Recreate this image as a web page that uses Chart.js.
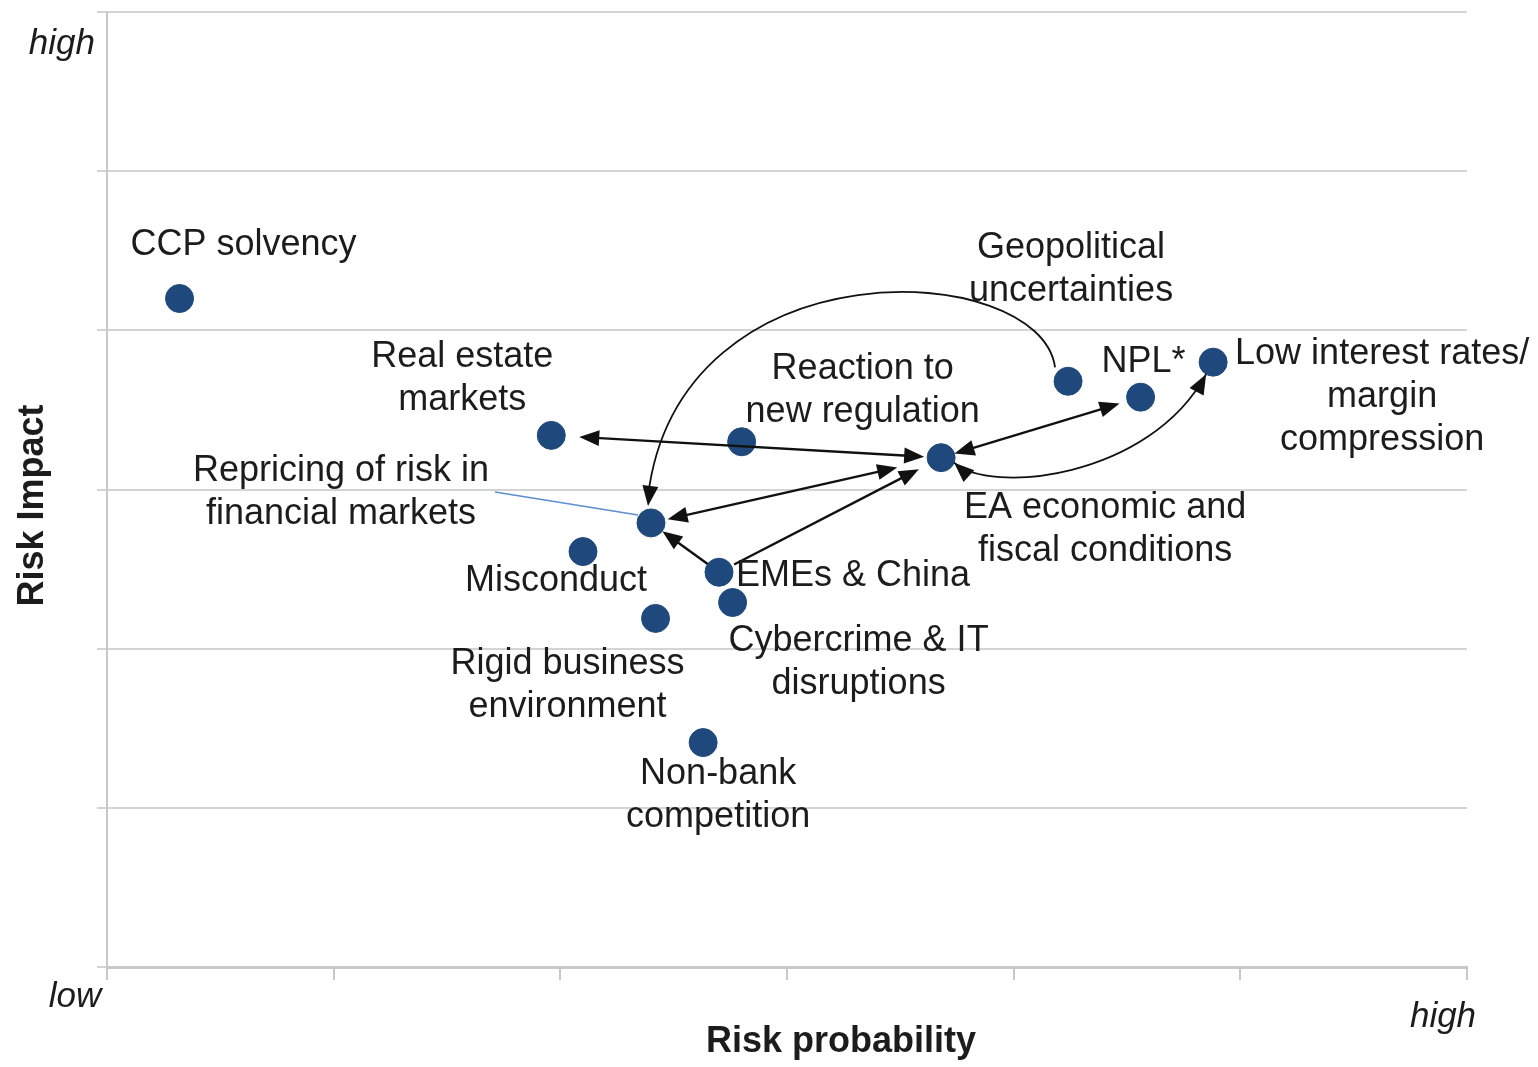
<!DOCTYPE html>
<html>
<head>
<meta charset="utf-8">
<script src="https://cdn.jsdelivr.net/npm/chart.js@4.4.1/dist/chart.umd.min.js"></script>
<style>
  html, body { margin: 0; padding: 0; background: #fff; }
  #wrap { width: 1538px; height: 1067px; position: relative; }
</style>
</head>
<body>
<div id="wrap"><canvas id="riskChart"></canvas></div>
<script>
// risk map: probability (x) vs impact (y), both on a 0..6 scale
const riskNames = [
  "CCP solvency", "Real estate markets", "Reaction to new regulation",
  "Geopolitical uncertainties", "NPL*", "Low interest rates/margin compression",
  "EA economic and fiscal conditions", "Repricing of risk in financial markets",
  "Misconduct", "EMEs & China", "Cybercrime & IT disruptions",
  "Rigid business environment", "Non-bank competition"
];
const probability = [0.32, 1.96, 2.8, 4.24, 4.56, 4.88, 3.68, 2.4, 2.1, 2.7, 2.76, 2.42, 2.63];
const impact      = [4.2, 3.34, 3.3, 3.68, 3.58, 3.8, 3.2, 2.79, 2.61, 2.48, 2.29, 2.19, 1.41];

// label text lines for each risk
const labelLines = [
  ["CCP solvency"],
  ["Real estate", "markets"],
  ["Reaction to", "new regulation"],
  ["Geopolitical", "uncertainties"],
  ["NPL*"],
  ["Low interest rates/", "margin", "compression"],
  ["EA economic and", "fiscal conditions"],
  ["Repricing of risk in", "financial markets"],
  ["Misconduct"],
  ["EMEs & China"],
  ["Cybercrime & IT", "disruptions"],
  ["Rigid business", "environment"],
  ["Non-bank", "competition"]
];

// links between risks: [from, to, arrowhead at from, arrowhead at to]
const links = [
  [6, 1, true, true],
  [6, 4, true, true],
  [6, 7, true, true],
  [9, 6, false, true],
  [9, 7, false, true]
];

const axisTicks = ["low", "high"];

// --- styling (pixel offsets for labels / arrow trimming) ---
const labelOffsets = [
  [-49, -53, "left"], [-89, -78], [121, -73], [3, -133], [3, -35], [169, -8],
  [164, 50], [-310, -52], [-27, 30], [17, 4, "left"], [126, 39], [-88, 46], [15, 32]
];
const linkTrim = [[17, 28], [14, 22], [45, 17], [17, 25], [14, 14]];
const lineH = 43;
const FONT = '"Liberation Sans", Arial, sans-serif';
const DOT = '#1f497d';

function arrowHead(ctx, tipX, tipY, dx, dy) {
  const len = Math.hypot(dx, dy) || 1;
  const ux = dx / len, uy = dy / len;
  const L = 20, W = 8;
  ctx.beginPath();
  ctx.moveTo(tipX, tipY);
  ctx.lineTo(tipX - ux * L - uy * W, tipY - uy * L + ux * W);
  ctx.lineTo(tipX - ux * L + uy * W, tipY - uy * L - ux * W);
  ctx.closePath();
  ctx.fill();
}

const riskOverlay = {
  id: 'riskOverlay',
  afterDatasetsDraw(chart) {
    const { ctx, scales: { x, y }, chartArea } = chart;
    const pt = i => [x.getPixelForValue(probability[i]), y.getPixelForValue(impact[i])];
    ctx.save();

    // leader line for the repricing label
    const rp = pt(7);
    ctx.strokeStyle = '#5b8fd0';
    ctx.lineWidth = 1.6;
    ctx.beginPath();
    ctx.moveTo(rp[0] - 156, rp[1] - 31);
    ctx.lineTo(rp[0] - 13, rp[1] - 8);
    ctx.stroke();

    ctx.strokeStyle = '#111';
    ctx.fillStyle = '#111';
    ctx.lineWidth = 2.4;

    // straight links
    links.forEach((lk, k) => {
      const a = pt(lk[0]), b = pt(lk[1]);
      const dx = b[0] - a[0], dy = b[1] - a[1];
      const len = Math.hypot(dx, dy);
      const ux = dx / len, uy = dy / len;
      const s = [a[0] + ux * linkTrim[k][0], a[1] + uy * linkTrim[k][0]];
      const e = [b[0] - ux * linkTrim[k][1], b[1] - uy * linkTrim[k][1]];
      ctx.beginPath();
      ctx.moveTo(s[0] + (lk[2] ? ux * 12 : 0), s[1] + (lk[2] ? uy * 12 : 0));
      ctx.lineTo(e[0] - (lk[3] ? ux * 12 : 0), e[1] - (lk[3] ? uy * 12 : 0));
      ctx.stroke();
      if (lk[2]) arrowHead(ctx, s[0], s[1], -ux, -uy);
      if (lk[3]) arrowHead(ctx, e[0], e[1], ux, uy);
    });

    // curved link: geopolitical -> repricing
    const g = pt(3), r = pt(7);
    let p0 = [g[0] - 13, g[1] - 14], p3 = [r[0] - 3, r[1] - 17];
    let p1 = [p0[0] - 15, p0[1] - 108], p2 = [p3[0] + 32, p3[1] - 266];
    ctx.lineWidth = 1.8;
    ctx.beginPath();
    ctx.moveTo(p0[0], p0[1]);
    ctx.bezierCurveTo(p1[0], p1[1], p2[0], p2[1], p3[0], p3[1] - 10);
    ctx.stroke();
    arrowHead(ctx, p3[0], p3[1], p3[0] - p2[0], p3[1] - p2[1]);

    // curved link: EA <-> low interest rates
    const ea = pt(6), lo = pt(5);
    p0 = [ea[0] + 13, ea[1] + 5]; p3 = [lo[0] - 7, lo[1] + 12];
    p1 = [p0[0] + 35, p0[1] + 32]; p2 = [p3[0] - 57, p3[1] + 105];
    ctx.beginPath();
    ctx.moveTo(p0[0], p0[1]);
    ctx.bezierCurveTo(p1[0], p1[1], p2[0], p2[1], p3[0], p3[1]);
    ctx.stroke();
    arrowHead(ctx, p0[0], p0[1], p0[0] - p1[0], p0[1] - p1[1]);
    arrowHead(ctx, p3[0], p3[1], p3[0] - p2[0], p3[1] - p2[1]);

    // risk labels
    ctx.fillStyle = '#1c1c1c';
    ctx.font = '36px ' + FONT;
    ctx.textBaseline = 'middle';
    labelLines.forEach((lines, i) => {
      const p = pt(i), o = labelOffsets[i];
      ctx.textAlign = o[2] || 'center';
      lines.forEach((t, j) => ctx.fillText(t, p[0] + o[0], p[1] + o[1] + j * lineH));
    });

    // axis end labels and titles
    ctx.font = 'italic 35px ' + FONT;
    ctx.textAlign = 'right';
    ctx.fillText(axisTicks[1], chartArea.left - 12, chartArea.top + 32);
    ctx.textAlign = 'center';
    ctx.fillText(axisTicks[0], chartArea.left - 32, chartArea.bottom + 30);
    ctx.fillText(axisTicks[1], chartArea.right - 24, chartArea.bottom + 50);

    ctx.font = 'bold 36px ' + FONT;
    ctx.fillText('Risk probability', (chartArea.left + chartArea.right) / 2 + 54, chartArea.bottom + 75);
    ctx.translate(33, (chartArea.top + chartArea.bottom) / 2 + 16);
    ctx.rotate(-Math.PI / 2);
    ctx.fillText('Risk Impact', 0, 0);
    ctx.restore();
  }
};

const ctx = document.getElementById('riskChart').getContext('2d');
new Chart(ctx, {
  type: 'scatter',
  data: {
    datasets: [{
      label: 'Risks',
      data: probability.map((p, i) => ({ x: p, y: impact[i] })),
      backgroundColor: DOT,
      borderColor: DOT,
      pointRadius: 14,
      pointHoverRadius: 14
    }]
  },
  options: {
    responsive: true,
    maintainAspectRatio: false,
    animation: false,
    layout: { autoPadding: false, padding: { top: 12, right: 71, left: 0, bottom: 0 } },
    plugins: { legend: { display: false }, tooltip: { enabled: false } },
    scales: {
      x: {
        type: 'linear', min: 0, max: 6,
        ticks: { display: false, stepSize: 1 },
        grid: { drawOnChartArea: false, drawTicks: true, tickLength: 13, color: '#c8c8c8', lineWidth: 2 },
        border: { display: true, color: '#c8c8c8', width: 3 },
        afterFit: s => { s.height = 100; }
      },
      y: {
        type: 'linear', min: 0, max: 6,
        ticks: { display: false, stepSize: 1 },
        grid: { drawTicks: true, tickLength: 10, color: '#d4d4d4', lineWidth: 2 },
        border: { display: true, color: '#c8c8c8', width: 2 },
        afterFit: s => { s.width = 107; }
      }
    }
  },
  plugins: [riskOverlay]
});
</script>
</body>
</html>
